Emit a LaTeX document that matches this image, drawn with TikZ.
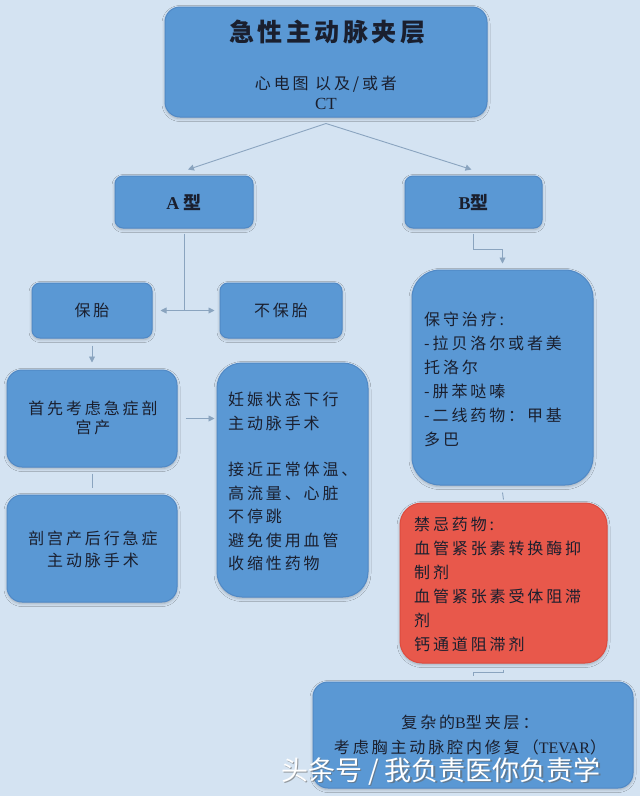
\documentclass[tikz,border=0pt]{standalone}
\usepackage{fontspec}
\setmainfont{Liberation Serif}
\newfontfamily\cjk[LetterSpace=18]{Noto Sans CJK SC}
\newfontfamily\cjkt[LetterSpace=14]{Noto Sans CJK SC}
\newfontfamily\cjkw{Noto Sans CJK SC}
\newfontfamily\lat{Liberation Serif}
\usetikzlibrary{arrows.meta,calc,shadows.blur}
\definecolor{bg}{HTML}{D4E3F2}
\definecolor{boxblue}{HTML}{5A98D4}
\definecolor{boxedge}{HTML}{5089C6}
\definecolor{redbox}{HTML}{E8584B}
\definecolor{rededge}{HTML}{DE4B3E}
\definecolor{conn}{HTML}{8AA4BF}
\definecolor{ink}{HTML}{1A1F2E}
\tikzset{
  box/.style={draw=boxedge, line width=1pt, fill=boxblue, inner sep=0pt,
    blur shadow={shadow xshift=0pt, shadow yshift=-1.5pt, shadow blur radius=3pt, shadow opacity=25}},
  redstyle/.style={box, draw=rededge, fill=redbox},
  txt/.style={text=ink, inner sep=0pt},
  body/.style={txt, font=\cjk\fontsize{16}{23}\selectfont},
  wire/.style={draw=conn, line width=0.9pt},
  arr/.style={wire, -{Triangle[length=6pt,width=6pt]}},
}
\begin{document}
\begin{tikzpicture}[x=1pt,y=-1pt]
\fill[bg] (0,0) rectangle (640,796);
\useasboundingbox (0,0) rectangle (640,796);

% boxes
\node[box, rounded corners=15pt, minimum width=322pt, minimum height=110pt] (top) at (326,62) {};
\node[box, rounded corners=8pt, minimum width=138pt, minimum height=52pt] (A) at (184,202) {};
\node[box, rounded corners=8pt, minimum width=137pt, minimum height=52pt] (B) at (473.5,202) {};
\node[box, rounded corners=8pt, minimum width=120pt, minimum height=55pt] (bt) at (92,310.5) {};
\node[box, rounded corners=8pt, minimum width=122pt, minimum height=55pt] (nbt) at (281,310.5) {};
\node[box, rounded corners=15pt, minimum width=170pt, minimum height=97pt] (sx) at (92,418.5) {};
\node[box, rounded corners=15pt, minimum width=170pt, minimum height=107pt] (pg) at (92,548.5) {};
\node[box, rounded corners=25pt, minimum width=151pt, minimum height=234pt] (rs) at (292.5,480) {};
\node[box, rounded corners=28pt, minimum width=181pt, minimum height=215pt] (bs) at (502.5,377.5) {};
\node[redstyle, rounded corners=22pt, minimum width=207pt, minimum height=160pt] (red) at (503.5,583) {};
\node[box, rounded corners=15pt, minimum width=320pt, minimum height=106pt] (fz) at (473,735) {};

% texts
\node[txt, font=\cjkt\bfseries\fontsize{25}{30}\selectfont] (ttl) at (327,32) {急性主动脉夹层};
\node[txt, align=center, font=\fontsize{16}{20}\selectfont] (sub) at (326,93) {{\cjk 心电图 以及/或者}\\{\lat\fontsize{17}{20}\selectfont CT}};
\node[txt, font=\fontsize{18}{20}\selectfont] (At) at (184,203) {{\lat\bfseries A}\ {\cjkt\bfseries 型}};
\node[txt, font=\fontsize{18}{20}\selectfont] (Bt) at (473.5,203) {{\lat\bfseries B}{\cjkt\bfseries 型}};
\node[body] (btt) at (92,310) {保胎};
\node[body] (nbtt) at (281,310) {不保胎};
\node[body, align=center, font=\cjk\fontsize{16}{19.5}\selectfont] (sxt) at (93,418) {首先考虑急症剖\\宫产};
\node[body, align=center, font=\cjk\fontsize{16}{22}\selectfont] (pgt) at (93,549) {剖宫产后行急症\\主动脉手术};
\node[body, align=left, anchor=north west, font=\cjk\fontsize{16}{23.4}\selectfont] (rst) at (228,392) {妊娠状态下行\\主动脉手术\\[23.4pt]接近正常体温、\\高流量、心脏\\不停跳\\避免使用血管\\收缩性药物};
\node[body, align=left, anchor=north west, font=\cjk\fontsize{16}{24}\selectfont] (bst) at (424,312) {保守治疗:\\-拉贝洛尔或者美\\托洛尔\\-肼苯哒嗪\\-二线药物：甲基\\多巴};
\node[body, align=left, anchor=north west, font=\cjk\fontsize{16}{24}\selectfont] (redt) at (414,517) {禁忌药物:\\血管紧张素转换酶抑\\制剂\\血管紧张素受体阻滞\\剂\\钙通道阻滞剂};
\node[body, align=center, font=\cjk\fontsize{16}{25}\selectfont] (fzt) at (470,735.5) {复杂的{\lat B}型夹层：\\考虑胸主动脉腔内修复（{\lat TEVAR}）};

% connectors
\coordinate (apex) at ($(top.south)+(0,6)$);
\coordinate (tA) at ($(A.north)+(4,-6)$);
\coordinate (tB) at ($(B.north)+(-2,-6)$);
\draw[arr] (apex) -- (tA);
\draw[arr] (apex) -- (tB);

\coordinate (aj) at ($(A.south)+(0,82)$);
\draw[wire] ($(A.south)+(0,5)$) -- (aj);
\draw[arr] (aj) -- ($(bt.east)+(8,0)$);
\draw[arr] (aj) -- ($(nbt.west)+(-5,0)$);

\draw[arr] ($(bt.south)+(0,7)$) -- ($(sx.north)+(0,-7)$);
\draw[wire] ($(sx.south)+(0,6)$) -- ($(pg.north)+(0,-7)$);
\coordinate (s1) at ($(sx.east)+(8,0)$);
\coordinate (s2) at ($(sx.east -| rs.west)+(-2,0)$);
\draw[arr] (s1) -- (s2);

\coordinate (b1) at ($(B.south)+(0,5)$);
\coordinate (b2) at ($(B.south)+(0,21)$);
\coordinate (b3) at ($(bs.north)+(0,-6)$);
\draw[arr] (b1) -- (b2) -| (b3);

\draw[wire] ($(bs.south)+(0,7)$) -- ($(red.north)+(0,-3)$);

\coordinate (r1) at ($(red.south)+(0,6)$);
\coordinate (r2) at ($(red.south)+(0,9)$);
\coordinate (r3) at ($(fz.north)+(0,-6)$);
\draw[wire] (r1) -- (r2) -| (r3);

% watermark
\node[text=black!60, opacity=0.6, font=\cjkw\fontsize{27}{30}\selectfont] (wms) at (442.5,772.5) {头条号 / 我负责医你负责学};
\node[text=white, font=\cjkw\fontsize{27}{30}\selectfont] (wm) at (441,771) {头条号 / 我负责医你负责学};
\end{tikzpicture}
\end{document}
